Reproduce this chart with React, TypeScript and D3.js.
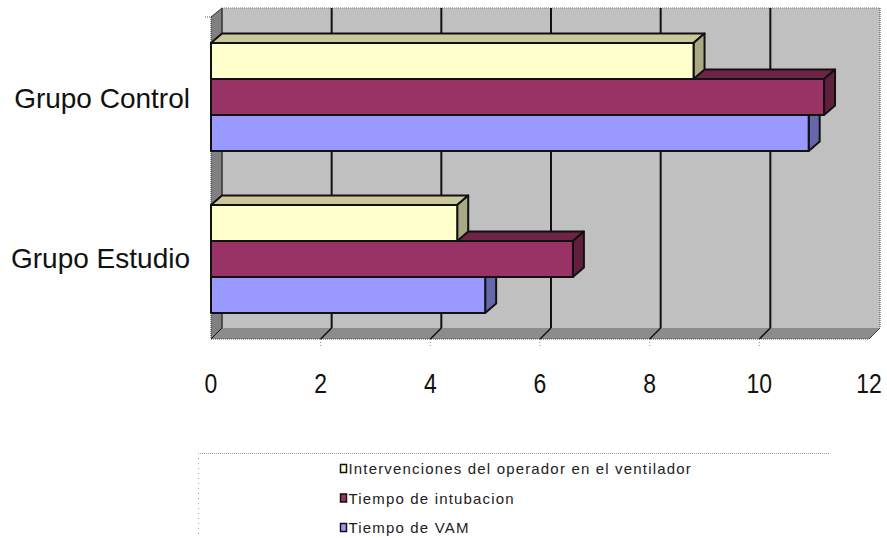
import React from "react";
import * as d3 from "d3";

const categories = ["Grupo Control", "Grupo Estudio"];
const seriesNames = [
  "Intervenciones del operador en el ventilador",
  "Tiempo de intubacion",
  "Tiempo de VAM",
];
const intervenciones = [8.8, 4.49];
const intubacion = [11.18, 6.6];
const vam = [10.9, 5.0];
const xTicks = [0, 2, 4, 6, 8, 10, 12];

const faceColors = ["#ffffcc", "#993366", "#9999ff"];
const topColors = ["#c8c89c", "#6e2447", "#6e6eb8"];
const sideColors = ["#a9a985", "#5f1f3d", "#6666aa"];

const WIDTH = 887;
const HEIGHT = 538;
const DEPTH = 11;
const BAR_RISE = 9.5;
const FRONT_BOTTOM = 339;
const BACK_TOP = 8;
const FRONT_TOP = 17;

const x = d3.scaleLinear().domain([0, 12]).range([211, 869]);
const yCat = d3
  .scaleBand<string>()
  .domain(categories)
  .range([16, 340])
  .paddingInner(1 / 3)
  .paddingOuter(1 / 6);
const ySeries = d3
  .scaleBand<string>()
  .domain(seriesNames)
  .range([0, yCat.bandwidth()]);

const seriesValues = [intervenciones, intubacion, vam];
const ink = "#111";
const poly = (pts: number[][]) => pts.map((p) => p.join(",")).join(" ");
const labelBaselines = [108, 268];
// bottom bar of a stack is painted first so the ones above overlap its top face
const paintOrder = [2, 1, 0];

export default function App() {
  const backX = x(0) + DEPTH;
  const backRight = x(12) + DEPTH;
  const backBottom = FRONT_BOTTOM - DEPTH;
  return (
    <svg
      width={WIDTH}
      height={HEIGHT}
      style={{ position: "absolute", left: 0, top: 0, background: "#fff" }}
      fontFamily="'Liberation Sans', Arial, sans-serif"
    >
      {/* back wall, left wall, floor */}
      <rect x={backX} y={BACK_TOP} width={backRight - backX} height={backBottom - BACK_TOP} fill="#c0c0c0" />
      <polygon
        points={poly([
          [x(0), FRONT_TOP],
          [backX, BACK_TOP],
          [backX, backBottom],
          [x(0), FRONT_BOTTOM],
        ])}
        fill="#808080"
      />
      <polygon
        points={poly([
          [x(0), FRONT_BOTTOM],
          [x(12), FRONT_BOTTOM],
          [backRight, backBottom],
          [backX, backBottom],
        ])}
        fill="#8c8c8c"
      />
      <line x1={backX} x2={backRight} y1={BACK_TOP} y2={BACK_TOP} stroke="#777" strokeDasharray="1 1" />
      <line x1={backRight} x2={backRight} y1={BACK_TOP} y2={backBottom} stroke="#444" strokeDasharray="1 1" />
      <line x1={x(0)} x2={x(12)} y1={FRONT_BOTTOM} y2={FRONT_BOTTOM} stroke="#444" strokeDasharray="1 1" />
      <line x1={x(0)} x2={x(0)} y1={FRONT_TOP} y2={FRONT_BOTTOM} stroke="#333" strokeDasharray="1 1" />
      <line x1={backX} x2={backX} y1={BACK_TOP} y2={backBottom} stroke="#333" strokeWidth={1.5} />
      <line x1={x(12)} x2={backRight} y1={FRONT_BOTTOM} y2={backBottom} stroke="#444" />
      <line x1={x(0)} x2={backX} y1={FRONT_BOTTOM} y2={backBottom} stroke={ink} />
      <line x1={x(0)} x2={backX} y1={FRONT_TOP} y2={BACK_TOP} stroke="#333" />
      <line x1={205} x2={x(0)} y1={FRONT_TOP} y2={FRONT_TOP} stroke="#666" strokeDasharray="1 1" />

      {/* gridlines continue across the floor to the axis */}
      {xTicks.filter((t) => t > 0 && t < 12).map((t) => (
        <g key={t}>
          <line x1={x(t) + DEPTH} x2={x(t) + DEPTH} y1={BACK_TOP} y2={backBottom} stroke={ink} strokeWidth={2} />
          <line x1={x(t)} x2={x(t) + DEPTH} y1={FRONT_BOTTOM} y2={backBottom} stroke={ink} strokeWidth={1.5} />
          <line x1={x(t)} x2={x(t)} y1={FRONT_BOTTOM} y2={FRONT_BOTTOM + 8} stroke="#888" strokeDasharray="1 2" />
        </g>
      ))}

      {/* three-dimensional bars */}
      {categories.map((c, ci) => (
        <g key={c}>
          {paintOrder.map((si) => {
            const s = seriesNames[si];
            const top = yCat(c)! + ySeries(s)!;
            const h = ySeries.bandwidth();
            const x0 = x(0);
            const x1 = x(seriesValues[si][ci]);
            return (
              <g key={s} stroke={ink} strokeWidth={2} strokeLinejoin="round">
                <polygon
                  points={poly([
                    [x0, top],
                    [x0 + DEPTH, top - BAR_RISE],
                    [x1 + DEPTH, top - BAR_RISE],
                    [x1, top],
                  ])}
                  fill={topColors[si]}
                />
                <polygon
                  points={poly([
                    [x1, top],
                    [x1 + DEPTH, top - BAR_RISE],
                    [x1 + DEPTH, top + h - BAR_RISE],
                    [x1, top + h],
                  ])}
                  fill={sideColors[si]}
                />
                <rect x={x0} y={top} width={x1 - x0} height={h} fill={faceColors[si]} />
              </g>
            );
          })}
        </g>
      ))}

      {/* category and value labels */}
      {categories.map((c, i) => (
        <text key={c} x={190} y={labelBaselines[i]} textAnchor="end" fontSize={28} fill="#111">
          {c}
        </text>
      ))}
      {xTicks.map((t) => (
        <text
          key={t}
          transform={`translate(${x(t)},393) scale(0.82,1)`}
          textAnchor="middle"
          fontSize={28}
          fill="#111"
        >
          {t}
        </text>
      ))}

      {/* legend */}
      <line x1={198} x2={830} y1={453.5} y2={453.5} stroke="#999" strokeDasharray="1 1" />
      <line x1={198.5} x2={198.5} y1={453} y2={536} stroke="#aaa" strokeDasharray="1 4" />
      {seriesNames.map((s, i) => {
        const baseline = 474 + i * 29.5;
        return (
          <g key={s}>
            <rect x={340.5} y={baseline - 9.5} width={6} height={8} fill={faceColors[i]} stroke={ink} strokeWidth={1.5} />
            <text x={348.5} y={baseline} fontSize={15} letterSpacing={1.17} fill="#222">
              {s}
            </text>
          </g>
        );
      })}
    </svg>
  );
}
